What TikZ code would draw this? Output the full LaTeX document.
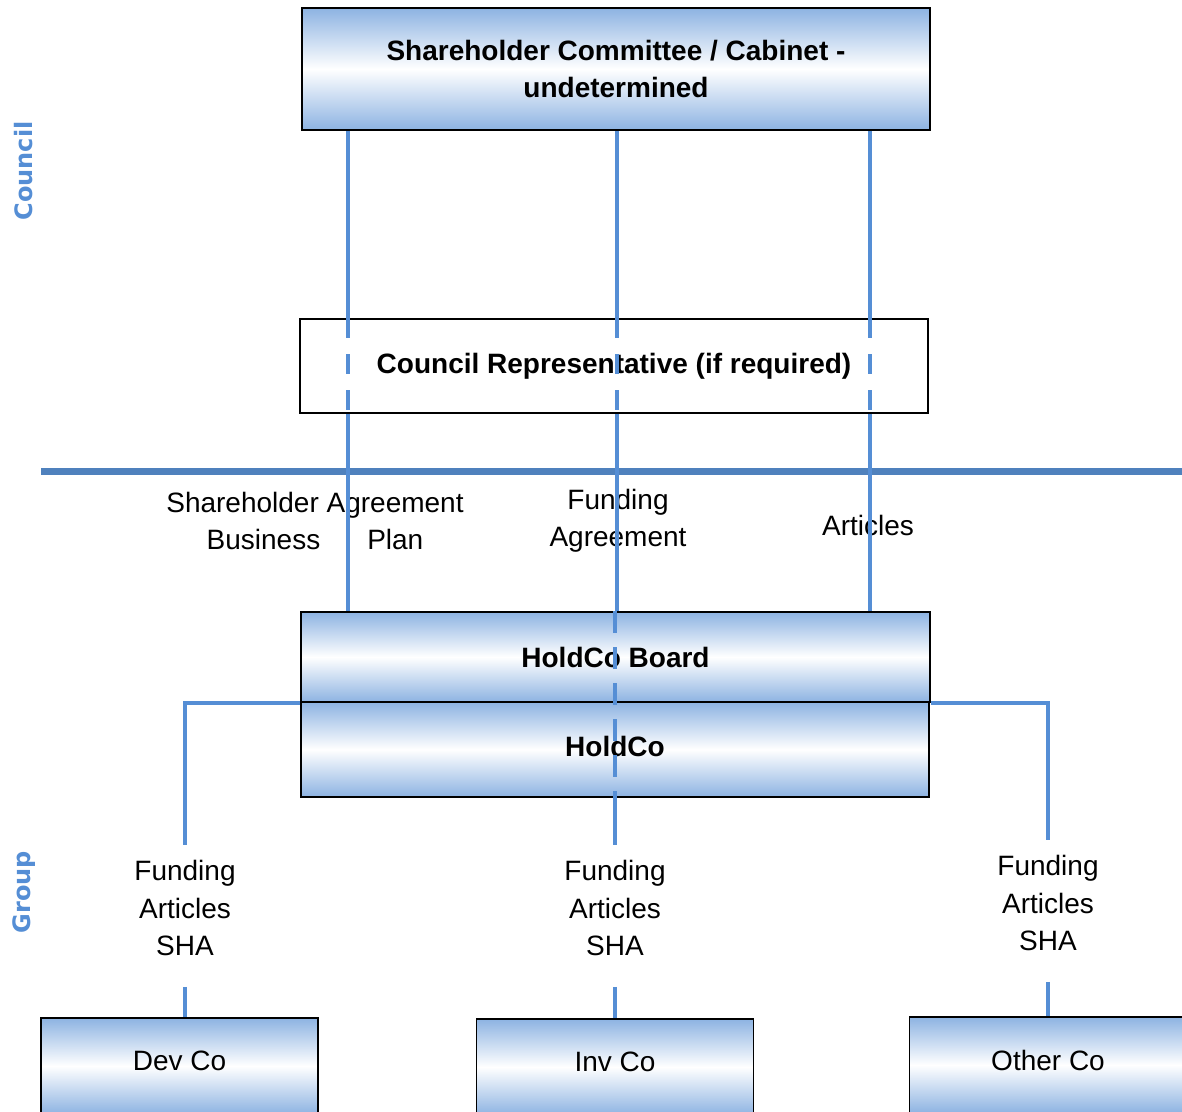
\documentclass[tikz,border=0pt]{standalone}
\usepackage{fontspec}
\setmainfont{Liberation Sans}
\newfontfamily\sidefont{DejaVu Sans}

\definecolor{boxblue}{HTML}{8DB3E2}
\definecolor{linkblue}{HTML}{558ED5}
\definecolor{ruleblue}{HTML}{4F81BD}

\newcommand{\chartfont}{\fontsize{28}{37.5}\selectfont}

\tikzset{
	entity/.style={draw=black, line width=1.6pt, top color=boxblue, bottom color=boxblue,
		middle color=white, font=\chartfont\bfseries, align=center, inner sep=0pt},
	plainbox/.style={draw=black, line width=1.6pt, fill=white, font=\chartfont\bfseries, inner sep=0pt},
	company/.style={entity, font=\chartfont, minimum width=277pt, minimum height=96pt, text depth=10pt},
	doclabel/.style={font=\chartfont, align=center, inner ysep=15pt, inner xsep=0pt},
	side/.style={font=\fontsize{24}{28}\sidefont\bfseries, text=linkblue, rotate=90},
	link/.style={draw=linkblue, line width=4.5pt},
	divider/.style={draw=ruleblue, line width=7pt},
}

\begin{document}
\begin{tikzpicture}[x=1pt, y=-1pt]
	\clip (0,0) rectangle (1182,1111);

	\node[side] (council) at (24,171) {Council};
	\node[side] (group)   at (24,892) {Group};

	\node[entity, minimum width=628pt, minimum height=122pt] (committee) at (616,69)
		{Shareholder Committee / Cabinet -\\undetermined};
	\node[plainbox, minimum width=628pt, minimum height=94pt] (rep) at (614,366)
		{Council Representative (if required)};
	\node[entity, minimum width=629pt, minimum height=90pt] (board)  at (615.5,657) {HoldCo Board};
	\node[entity, minimum width=628pt, minimum height=95pt, text depth=6pt] (holdco) at (615,749.5) {HoldCo};

	\node[company] (devco)   at (179.5,1066) {Dev Co};
	\node[company] (invco)   at (615,1067)   {Inv Co};
	\node[company] (otherco) at (1048,1065)  {Other Co};

	\node[doclabel] (shaplan)  at (315,521) {Shareholder Agreement\\Business\hspace*{47pt}Plan};
	\node[doclabel] (fundagr)  at (618,521) {Funding\\Agreement};
	\node[doclabel] (articles) at (868,525) {Articles};
	\node[doclabel] (docsL) at (185,908)  {Funding\\Articles\\SHA};
	\node[doclabel] (docsM) at (615,908)  {Funding\\Articles\\SHA};
	\node[doclabel] (docsR) at (1048,903) {Funding\\Articles\\SHA};

	% council / group boundary
	\draw[divider] (41,471) -- (1182,471);

	% committee down to the board
	\foreach \x/\n in {348/a,617/b,870/c} {
		\coordinate (col\n) at (\x,0);
		\draw[link] (committee.south -| col\n) -- (rep.north -| col\n);
		\draw[link, dash pattern=on 20pt off 16pt] (rep.north -| col\n) -- (rep.south -| col\n);
		\draw[link] (rep.south -| col\n) -- (board.north -| col\n);
	}

	% holdco down to the companies
	\draw[link, dash pattern=on 22pt off 14pt] (board.north -| docsM) -- (holdco.south -| docsM);
	\draw[link] (holdco.south -| docsM) -- (docsM.north);
	\draw[link] (board.south west) -| (docsL.north);
	\draw[link] (board.south east) -| (docsR.north);
	\draw[link, shorten <=16pt] (docsL.south) -- (docsL.south |- devco.north);
	\draw[link, shorten <=16pt] (docsM.south) -- (invco.north);
	\draw[link, shorten <=16pt] (docsR.south) -- (docsR.south |- otherco.north);
\end{tikzpicture}
\end{document}
